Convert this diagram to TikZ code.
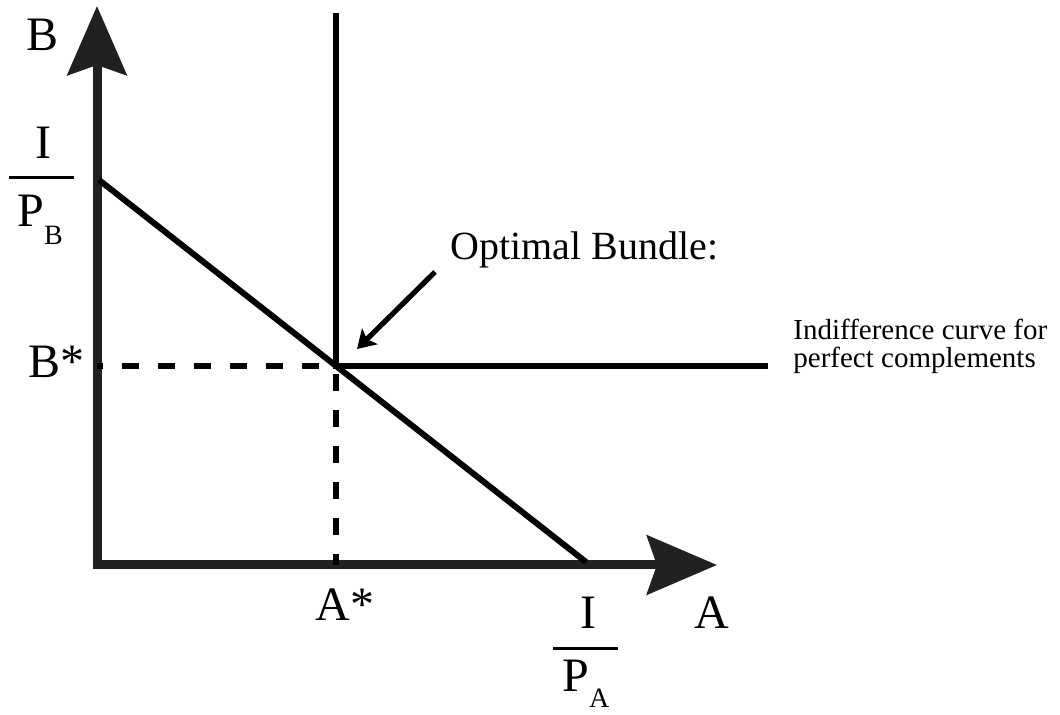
\documentclass[tikz,border=0pt]{standalone}
\usepackage{fontspec}
\setmainfont{Liberation Serif}
\usepackage{xcolor}
\usetikzlibrary{arrows.meta,positioning}

\newcommand{\axfont}{\fontsize{24}{28}\selectfont}
\newcommand{\subfont}{\fontsize{14}{16}\selectfont}

\begin{document}
\begin{tikzpicture}[
    x=0.5pt, y=-0.5pt,
    axis/.style={line width=4.5pt, draw=black!87, line join=miter,
        {Stealth[length=34.5pt,width=29.5pt,inset=5pt]}-{Stealth[length=35pt,width=29.5pt,inset=5pt]}},
    curve/.style={line width=3pt, draw=black, line join=miter},
    guide/.style={line width=3pt, draw=black, dash pattern=on 8.5pt off 9.5pt},
    pointer/.style={line width=2.6pt, draw=black, -{Stealth[length=9pt,width=11pt,inset=2pt]}},
    lbl/.style={inner sep=0pt, font=\axfont},
    fracbar/.style={fill=black, inner sep=0pt, minimum width=32.5pt, minimum height=1.5pt}
]
    \useasboundingbox (0,0) rectangle (1060,715);

    % points of the diagram
    \coordinate (O) at (97,565);
    \coordinate (ytip) at (97,6);
    \coordinate (xtip) at (717,565);
    \coordinate (bInt) at (99,180);
    \coordinate (aInt) at (586,562);
    \coordinate (opt) at (336,366);
    \coordinate (icTop) at (336,13);
    \coordinate (icEnd) at (768,366);
    \coordinate (bStar) at (97,366);
    \coordinate (aStar) at (336,565);
    \coordinate (ptrTail) at (435,272);
    \coordinate (ptrTip) at (357,349);

    % axes
    \draw [axis] (ytip) -- (O) -- (xtip);

    % budget line and indifference curve
    \draw [curve] (bInt) -- (aInt);
    \draw [curve] (icTop) -- (opt) -- (icEnd);

    % guides to the optimum
    \draw [guide, dash phase=5.5pt] (bStar) -- (opt);
    \draw [guide, dash phase=14pt] (opt) -- (aStar);

    % axis labels
    \node [lbl, anchor=base] (labB) at (43,51) {B};
    \node [lbl, anchor=base] (labA) at (712,629) {A};
    \node [lbl, anchor=base west] (labBs) at (28,378) {B*};
    \node [lbl, anchor=base west] (labAs) at (315,620) {A*};

    % intercepts
    \node [lbl, anchor=base] (numB) at (43,159) {I};
    \node [fracbar] (barB) at (41,178) {};
    \node [lbl, anchor=base west] (denB) at (17,227) {P\raisebox{-9pt}{\subfont B}};

    \node [lbl, anchor=base] (numA) at (588,628) {I};
    \node [fracbar] (barA) at (585,648) {};
    \node [lbl, anchor=base west] (denA) at (562,691) {P\raisebox{-8pt}{\subfont A}};

    % annotations
    \node [inner sep=0pt, anchor=base west, font=\fontsize{20}{24}\selectfont] (optLab) at (450,260) {Optimal Bundle:};
    \draw [pointer] (ptrTail) -- (ptrTip);
    \node [inner sep=0pt, anchor=base west, align=left, font=\fontsize{14.5}{14}\selectfont] (icLab) at (793,368)
        {Indifference curve for\\perfect complements};
\end{tikzpicture}
\end{document}
